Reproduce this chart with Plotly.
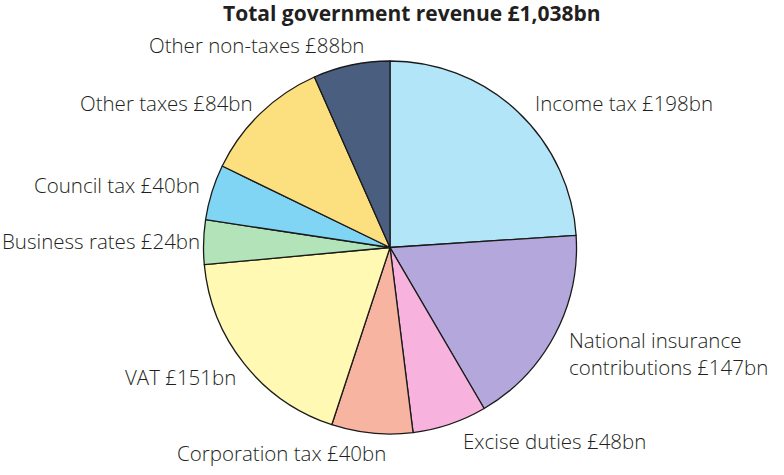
import plotly.graph_objects as go

labels = ["Income tax", "National insurance contributions", "Excise duties",
          "Corporation tax", "VAT", "Business rates", "Council tax",
          "Other taxes", "Other non-taxes"]
# Values as printed in the labels (£bn)
stated_values = [198, 147, 48, 40, 151, 24, 40, 84, 88]
# Slice sizes as drawn in the picture (£bn)
drawn_values = [249, 183, 67, 73, 192, 40, 50, 116, 69]
colors = ["#b3e5f8", "#b3a7dc", "#f7b3dd", "#f7b4a0", "#fff9b3",
          "#b3e3b8", "#80d5f5", "#fcdf7e", "#4a5f80"]
label_names = ["Income tax", "National insurance<br>contributions",
               "Excise duties", "Corporation tax", "VAT", "Business rates",
               "Council tax", "Other taxes", "Other non-taxes"]
title_text = "Total government revenue £1,038bn"

W, H = 784, 475
FONT = "Open Sans"

fig = go.Figure(go.Pie(
    labels=labels, values=drawn_values, sort=False, direction="clockwise",
    rotation=0, marker=dict(colors=colors, line=dict(color="#1a1a1a", width=1.3)),
    textinfo="none", hoverinfo="label", showlegend=False,
    domain=dict(x=[203 / W, 577 / W], y=[1 - 434 / H, 1 - 61 / H]),
))

# label placement (pixel positions): x, y(center), anchor
pos = [
    (533, 103, "left"),
    (567, 353, "left"),
    (461, 441, "left"),
    (388, 453, "right"),
    (238, 377, "right"),
    (0, 241, "left"),
    (202, 185, "right"),
    (255, 103, "right"),
    (366, 45, "right"),
]
annotations = []
for name, val, (px, py, anc) in zip(label_names, stated_values, pos):
    annotations.append(dict(
        x=px / W, y=1 - py / H, xref="paper", yref="paper",
        text=f"{name} £{val}bn",
        showarrow=False, xanchor=anc, yanchor="middle", align="left",
        font=dict(family=FONT, size=20.5, color="#231f20", weight=300),
    ))
annotations.append(dict(
    x=412 / W, y=1 - 13 / H, xref="paper", yref="paper",
    text="<b>" + title_text + "</b>", showarrow=False,
    xanchor="center", yanchor="middle",
    font=dict(family=FONT, size=21, color="#231f20"),
))

fig.update_layout(
    width=W, height=H, margin=dict(l=0, r=0, t=0, b=0),
    paper_bgcolor="white", plot_bgcolor="white",
    annotations=annotations,
)
fig.write_html("out.html")
